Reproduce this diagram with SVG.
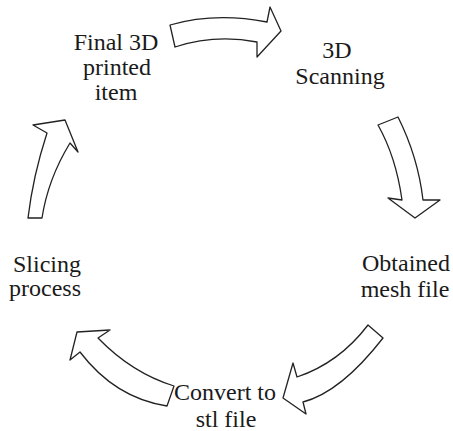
<svg xmlns="http://www.w3.org/2000/svg" width="453" height="431" viewBox="0 0 453 431">
<style>
.lbl{font-family:"Liberation Serif","Times New Roman","DejaVu Serif",serif;font-size:24px;fill:#1a1a1a;text-anchor:middle}
.arr{fill:#fff;stroke:#222;stroke-width:1.3;stroke-linejoin:round}
</style>
<rect width="453" height="431" fill="#fff"/>
<g id="connectors">
<path class="arr" d="M170,25 L175,47 Q215,34 257,42 L257,57 L281,31 L270,7 L267,22 Q215,12 170,25 Z"/>
<path class="arr" d="M378,125 L398,117 Q418,157 423,200 L440,200 L415,218 L388,198 L402,200 Q396,157 378,125 Z"/>
<path class="arr" d="M368,325 L383,338 Q341,392 303,402 L306,414 L283,398 L293,363 L297,377 Q339,363 368,325 Z"/>
<path class="arr" d="M174,386 L167,406 Q115,398 80,352 L70,360 L77,332 L110,330 L98,338 Q132,373 174,386 Z"/>
<path class="arr" d="M28,218 L42,218 Q48,179 70,143 L78,152 L65,120 L33,125 L47,133 Q33,176 28,218 Z"/>
</g>
<g id="node-final">
<text class="lbl" x="116" y="50">Final 3D</text>
<text class="lbl" x="117" y="75">printed</text>
<text class="lbl" x="116" y="100">item</text>
</g>
<g id="node-scanning">
<text class="lbl" x="337" y="58" font-size="23">3D</text>
<text class="lbl" x="340" y="84" font-size="23">Scanning</text>
</g>
<g id="node-mesh">
<text class="lbl" x="406" y="271">Obtained</text>
<text class="lbl" x="405" y="297">mesh file</text>
</g>
<g id="node-stl">
<text class="lbl" x="225" y="400">Convert to</text>
<text class="lbl" x="226" y="427">stl file</text>
</g>
<g id="node-slicing">
<text class="lbl" x="47" y="272">Slicing</text>
<text class="lbl" x="45" y="296">process</text>
</g>
</svg>
